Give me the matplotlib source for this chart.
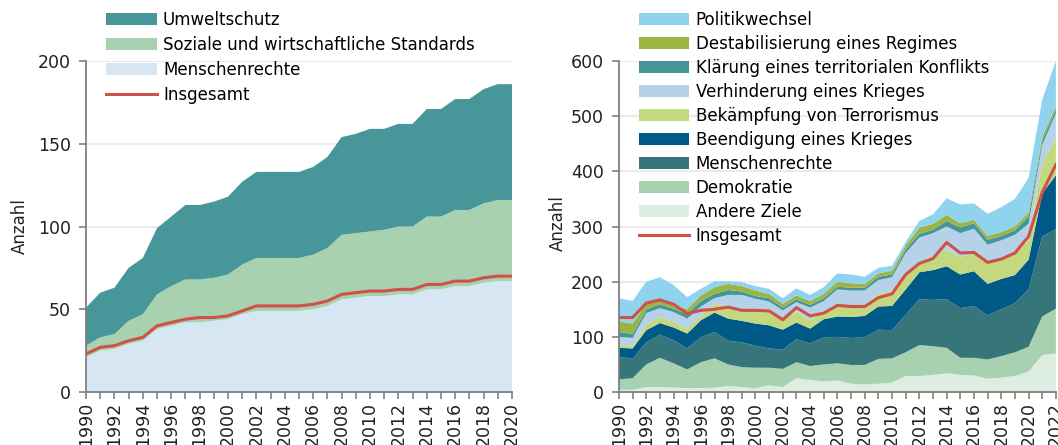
import numpy as np
import matplotlib
matplotlib.use("Agg")
import matplotlib.pyplot as plt
from matplotlib.ticker import MultipleLocator

plt.rcParams["font.family"] = ["DejaVu Sans"]

# =========================
# Daten: linkes Diagramm (1990-2020)
# =========================
years_l = list(range(1990, 2021))

# kumulierte Oberkanten
mr_top_l = [21, 25, 26, 29, 31, 38, 40, 42, 42, 43, 44, 47, 49, 49, 49, 49, 50, 52, 56, 57,
            58, 58, 59, 59, 62, 62, 64, 64, 66, 67, 67]
soz_top_l = [28, 33, 35, 43, 47, 59, 64, 68, 68, 69, 71, 77, 81, 81, 81, 81, 83, 87, 95, 96,
             97, 98, 100, 100, 106, 106, 110, 110, 114, 116, 116]
umw_top_l = [51, 60, 63, 75, 81, 99, 106, 113, 113, 115, 118, 127, 133, 133, 133, 133, 136, 142, 154, 156,
             159, 159, 162, 162, 171, 171, 177, 177, 183, 186, 186]
insg_l = [23, 27, 28, 31, 33, 40, 42, 44, 45, 45, 46, 49, 52, 52, 52, 52, 53, 55, 59, 60,
          61, 61, 62, 62, 65, 65, 67, 67, 69, 70, 70]

labels_l = ["Menschenrechte", "Soziale und wirtschaftliche Standards", "Umweltschutz"]
colors_l = ["#d6e6f2", "#a8d1af", "#46969a"]

# =========================
# Daten: rechtes Diagramm (1990-2022)
# =========================
years_r = list(range(1990, 2023))

andere_top = [4, 4, 9, 9, 8, 7, 7, 8, 11, 9, 7, 12, 9, 25, 22, 19, 21, 15, 14, 15,
              17, 29, 29, 31, 34, 31, 30, 24, 26, 29, 37, 67, 70]
demo_top = [23, 25, 50, 62, 52, 41, 54, 61, 50, 45, 44, 44, 42, 54, 47, 50, 52, 49, 49, 60,
            61, 72, 85, 83, 80, 62, 62, 59, 65, 72, 82, 137, 151]
mr_top = [64, 60, 90, 104, 94, 79, 99, 109, 93, 90, 84, 79, 77, 96, 88, 99, 100, 98, 99, 113,
          112, 140, 168, 167, 168, 152, 156, 139, 150, 161, 186, 282, 295]
beend_top = [80, 79, 112, 125, 117, 106, 130, 144, 133, 129, 124, 121, 113, 126, 115, 132, 137, 136, 138, 155,
             156, 186, 217, 221, 228, 213, 219, 196, 205, 212, 240, 360, 393]
bekaempf_top = [86, 84, 122, 136, 127, 115, 138, 160, 156, 150, 147, 145, 130, 146, 130, 147, 158, 156, 157, 178,
                183, 215, 235, 246, 258, 245, 251, 235, 242, 253, 275, 415, 460]
verh_top = [100, 98, 143, 152, 145, 133, 155, 170, 176, 176, 169, 164, 148, 163, 153, 165, 186, 184, 184, 203,
            208, 252, 280, 288, 300, 288, 296, 267, 275, 285, 305, 448, 505]
klaer_top = [109, 105, 150, 159, 151, 141, 165, 178, 185, 182, 174, 170, 153, 168, 158, 170, 191, 189, 189, 209,
             213, 258, 287, 294, 310, 298, 306, 276, 283, 293, 318, 456, 512]
destab_top = [128, 124, 160, 167, 159, 150, 175, 190, 196, 192, 184, 178, 160, 175, 165, 178, 200, 197, 196, 215,
              220, 266, 298, 305, 321, 306, 312, 283, 290, 300, 326, 463, 518]
politik_top = [170, 165, 200, 208, 194, 172, 187, 201, 201, 199, 192, 187, 170, 188, 176, 190, 215, 213, 209, 225,
               229, 272, 310, 322, 351, 340, 342, 323, 335, 350, 388, 530, 600]
insg_r = [135, 135, 161, 167, 159, 142, 148, 150, 154, 148, 148, 147, 131, 153, 138, 143, 157, 155, 155, 171,
          178, 213, 233, 242, 271, 252, 253, 235, 241, 252, 282, 362, 412]

labels_r = ["Andere Ziele", "Demokratie", "Menschenrechte", "Beendigung eines Krieges",
            "Bekämpfung von Terrorismus", "Verhinderung eines Krieges",
            "Klärung eines territorialen Konflikts", "Destabilisierung eines Regimes", "Politikwechsel"]
colors_r = ["#ddede2", "#a8d1af", "#36767a", "#005a87", "#c4d97f", "#b5d2e8",
            "#45969a", "#9cb444", "#8fd3ee"]

red = "#d0504a"
gray = "#808080"


def layers(tops):
    # kumulierte Oberkanten -> einzelne Schichten
    tops = np.array(tops, dtype=float)
    out = [tops[0]]
    for i in range(1, len(tops)):
        out.append(tops[i] - tops[i - 1])
    return out


def style_axis(ax, years, ymax, ystep):
    ax.set_xlim(years[0], years[-1])
    ax.set_ylim(0, ymax)
    ax.yaxis.set_major_locator(MultipleLocator(ystep))
    ax.xaxis.set_major_locator(MultipleLocator(2))
    ax.xaxis.set_minor_locator(MultipleLocator(1))
    ax.grid(axis="y", color="#ebebeb", linewidth=1.5, zorder=0)
    ax.set_axisbelow(True)
    for s in ["top", "right"]:
        ax.spines[s].set_visible(False)
    for s in ["left", "bottom"]:
        ax.spines[s].set_color(gray)
        ax.spines[s].set_linewidth(1.3)
        ax.spines[s].set_zorder(5)
    ax.tick_params(axis="both", which="both", color=gray, length=5, width=1.2,
                   labelsize=12.5, labelcolor="#222222")
    ax.tick_params(axis="y", pad=6)
    ax.tick_params(axis="x", which="major", labelrotation=90, pad=2)
    ax.set_ylabel("Anzahl", fontsize=12, color="#222222")


fig = plt.figure(figsize=(10.58, 4.45), dpi=100)

# =========================
# linkes Diagramm
# =========================
ax1 = fig.add_axes([0.0813, 0.1191, 0.4026, 0.7438])
polys = ax1.stackplot(years_l, *layers([mr_top_l, soz_top_l, umw_top_l]),
                      colors=colors_l, labels=labels_l, linewidth=0, zorder=2)
line1, = ax1.plot(years_l, insg_l, color=red, linewidth=2.2, label="Insgesamt", zorder=3)
style_axis(ax1, years_l, 200, 50)
ax1.yaxis.set_label_coords(-0.135, 0.5)

h = list(polys[::-1]) + [line1]
fig.legend(h, [p.get_label() for p in h], loc="upper left",
           bbox_to_anchor=(0.1, 0.975), bbox_transform=fig.transFigure,
           frameon=False, fontsize=12, borderpad=0, labelspacing=0.42,
           handlelength=3.05, handletextpad=0.38, borderaxespad=0)

# =========================
# rechtes Diagramm
# =========================
ax2 = fig.add_axes([0.585, 0.1191, 0.413, 0.7438])
polys2 = ax2.stackplot(years_r, *layers([andere_top, demo_top, mr_top, beend_top, bekaempf_top,
                                         verh_top, klaer_top, destab_top, politik_top]),
                       colors=colors_r, labels=labels_r, linewidth=0, zorder=2)
line2, = ax2.plot(years_r, insg_r, color=red, linewidth=2.2, label="Insgesamt", zorder=3)
style_axis(ax2, years_r, 600, 100)
ax2.yaxis.set_label_coords(-0.118, 0.51)

h2 = list(polys2[::-1]) + [line2]
fig.legend(h2, [p.get_label() for p in h2], loc="upper left",
           bbox_to_anchor=(0.6035, 0.975), bbox_transform=fig.transFigure,
           frameon=False, fontsize=12, borderpad=0, labelspacing=0.36,
           handlelength=3.05, handletextpad=0.38, borderaxespad=0)

fig.savefig("out.png", dpi=100)
